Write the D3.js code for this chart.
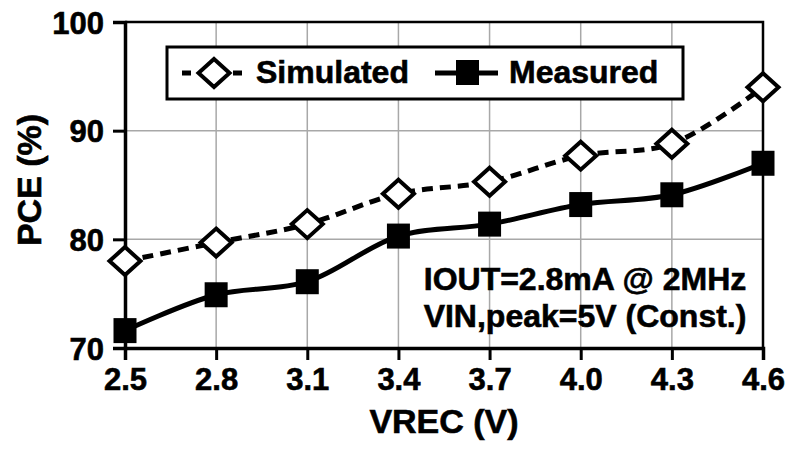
<!DOCTYPE html>
<html>
<head>
<meta charset="utf-8">
<style>
  body { margin: 0; background: #fff; }
  svg text { font-family: "Liberation Sans", Arial, sans-serif; font-weight: bold; fill: #000; stroke: #000; stroke-width: 0.6px; }
</style>
</head>
<body>
<svg id="chart" width="789" height="451"></svg>
<script src="https://cdn.jsdelivr.net/npm/d3@7/dist/d3.min.js"></script>
<script>
  // data
  var vrec = [2.5, 2.8, 3.1, 3.4, 3.7, 4.0, 4.3, 4.6];
  var simulated = [78.0, 79.7, 81.4, 84.2, 85.3, 87.7, 88.8, 94.0];
  var measured = [71.6, 74.9, 76.1, 80.3, 81.4, 83.2, 84.1, 87.0];
  var xTicks = ["2.5", "2.8", "3.1", "3.4", "3.7", "4.0", "4.3", "4.6"];
  var yTicks = [70, 80, 90, 100];
  var note = ["IOUT=2.8mA @ 2MHz", "VIN,peak=5V (Const.)"];

  // plot box (note: "top" is reserved on window, so use other names)
  var pLeft = 125, pRight = 763, pTop = 22, pBottom = 348;

  var svg = d3.select("#chart");

  var x = d3.scaleLinear().domain([2.5, 4.6]).range([pLeft, pRight]);
  var y = d3.scaleLinear().domain([70, 100]).range([pBottom, pTop]);

  // grid
  svg.append("g")
    .selectAll("line")
    .data(vrec.slice(1, -1))
    .join("line")
      .attr("x1", d => x(d)).attr("x2", d => x(d))
      .attr("y1", pTop).attr("y2", pBottom)
      .attr("stroke", "#a8a8a8").attr("stroke-width", 1.5);
  svg.append("g")
    .selectAll("line")
    .data(yTicks.slice(1, -1))
    .join("line")
      .attr("x1", pLeft).attr("x2", pRight)
      .attr("y1", d => y(d)).attr("y2", d => y(d))
      .attr("stroke", "#a8a8a8").attr("stroke-width", 1.5);

  // frame top/right
  svg.append("path")
    .attr("d", `M${pLeft},${pTop}H${pRight}V${pBottom}`)
    .attr("fill", "none").attr("stroke", "#000").attr("stroke-width", 2.5);

  // axes
  var xAxis = svg.append("g")
    .attr("transform", `translate(0,${pBottom})`)
    .call(d3.axisBottom(x).tickValues(vrec).tickFormat((d, i) => xTicks[i]).tickSizeOuter(0).tickSize(12).tickPadding(8));
  var yAxis = svg.append("g")
    .attr("transform", `translate(${pLeft},0)`)
    .call(d3.axisLeft(y).tickValues(yTicks).tickSizeOuter(0).tickSize(12).tickPadding(9));

  [xAxis, yAxis].forEach(g => {
    g.select(".domain").attr("stroke", "#000").attr("stroke-width", 3.5);
    g.selectAll(".tick line").attr("stroke", "#000").attr("stroke-width", 3);
    g.selectAll(".tick text")
      .attr("font-family", null)
      .style("font-size", "31px")
      .attr("fill", "#000");
  });
  yAxis.selectAll(".tick text").attr("dy", "0.36em");

  // curves
  var line = d3.line().x(d => x(d[0])).y(d => y(d[1])).curve(d3.curveCatmullRom.alpha(0.5));

  svg.append("path")
    .datum(d3.zip(vrec, simulated))
    .attr("d", line)
    .attr("fill", "none").attr("stroke", "#000").attr("stroke-width", 5)
    .attr("stroke-dasharray", "11,7");
  svg.append("path")
    .datum(d3.zip(vrec, measured))
    .attr("d", line)
    .attr("fill", "none").attr("stroke", "#000").attr("stroke-width", 5);

  var diamond = "M0,-14L15.5,0L0,14L-15.5,0Z";

  svg.append("g")
    .selectAll("path")
    .data(d3.zip(vrec, simulated))
    .join("path")
      .attr("transform", d => `translate(${x(d[0])},${y(d[1])})`)
      .attr("d", diamond)
      .attr("fill", "#fff").attr("stroke", "#000").attr("stroke-width", 4);

  svg.append("g")
    .selectAll("rect")
    .data(d3.zip(vrec, measured))
    .join("rect")
      .attr("x", d => x(d[0]) - 11.5).attr("y", d => y(d[1]) - 12.5)
      .attr("width", 23).attr("height", 25)
      .attr("fill", "#000");

  // legend
  var lg = svg.append("g");
  lg.append("rect")
    .attr("x", 167).attr("y", 47).attr("width", 516).attr("height", 52)
    .attr("fill", "#fff").attr("stroke", "#000").attr("stroke-width", 3);
  lg.append("line")
    .attr("x1", 182).attr("x2", 246).attr("y1", 73).attr("y2", 73)
    .attr("stroke", "#000").attr("stroke-width", 5).attr("stroke-dasharray", "9,8");
  lg.append("path")
    .attr("transform", "translate(214,73)")
    .attr("d", diamond)
    .attr("fill", "#fff").attr("stroke", "#000").attr("stroke-width", 4);
  lg.append("text").attr("x", 256).attr("y", 83).style("font-size", "32px").text("Simulated");
  lg.append("line")
    .attr("x1", 435).attr("x2", 498).attr("y1", 73).attr("y2", 73)
    .attr("stroke", "#000").attr("stroke-width", 5);
  lg.append("rect")
    .attr("x", 456).attr("y", 60).attr("width", 23).attr("height", 25).attr("fill", "#000");
  lg.append("text").attr("x", 509).attr("y", 83).style("font-size", "32px").text("Measured");

  // note
  svg.append("g")
    .selectAll("text")
    .data(note)
    .join("text")
      .attr("x", 585).attr("y", (d, i) => 290 + i * 37)
      .attr("text-anchor", "middle")
      .style("font-size", "32px")
      .text(d => d);

  // axis titles
  svg.append("text")
    .attr("x", 444).attr("y", 433)
    .attr("text-anchor", "middle")
    .style("font-size", "34px")
    .text("VREC (V)");
  svg.append("text")
    .attr("transform", "translate(41,180) rotate(-90)")
    .attr("text-anchor", "middle")
    .style("font-size", "34px")
    .text("PCE (%)");
</script>
</body>
</html>
